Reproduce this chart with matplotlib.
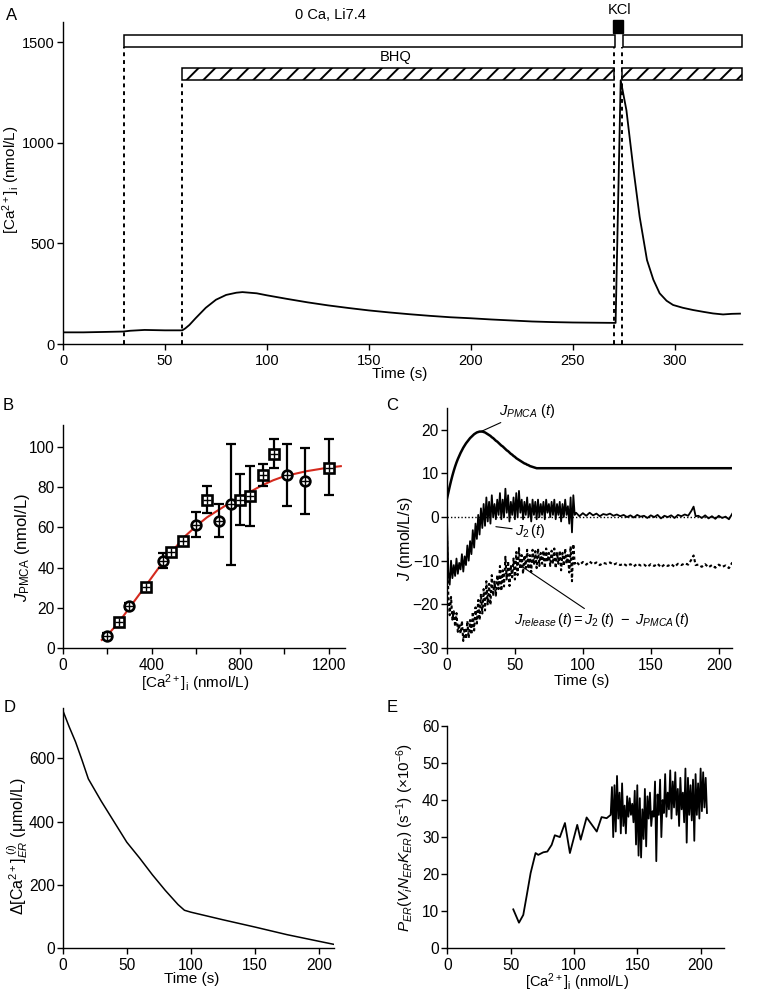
import matplotlib
matplotlib.use('Agg')
import matplotlib.pyplot as plt
import numpy as np
from matplotlib.patches import Rectangle

plt.rcParams['font.family'] = ['Liberation Sans', 'DejaVu Sans']
plt.rcParams['mathtext.fontset'] = 'custom'
plt.rcParams['mathtext.rm'] = 'Liberation Sans'
plt.rcParams['mathtext.it'] = 'Liberation Sans:italic'
plt.rcParams['mathtext.bf'] = 'Liberation Sans:bold'
plt.rcParams['hatch.linewidth'] = 1.4
plt.rcParams['axes.linewidth'] = 1.0

# ---------------- panel A : [Ca2+]i trace ----------------
a_time = [0, 10, 20, 29.5, 33, 40, 50, 58.5, 60, 62, 65, 70, 75, 80, 85, 88, 95, 100,
          110, 120, 130, 140, 150, 160, 170, 180, 190, 200, 210, 220, 230, 240, 250,
          260, 271, 273.5, 276.3, 279.6, 282.8, 286.4, 289.5, 292.6, 296, 299.2, 304,
          309, 314, 318.8, 323.7, 328, 332]
a_ca = [58, 58, 60, 62, 66, 70, 68, 68, 78, 95, 128, 180, 220, 244, 255, 258, 252, 242,
        224, 207, 192, 179, 167, 157, 148, 140, 133, 128, 122, 117, 112, 109, 107,
        106, 105, 1311, 1162, 881, 632, 417, 320, 252, 215, 194, 180,
        169, 160, 152, 147, 150, 151]
# solution bars (start, end) in s
zero_ca_bars = [(30, 270.6), (274.4, 333)]
bhq_bars = [(58.5, 270), (274.3, 333)]
kcl_bar = (269.6, 274.5)
a_dotted = [30, 58.5, 270, 274.3]

# ---------------- panel B : J_PMCA vs Ca ----------------
b_ca = [200, 255, 300, 375, 450, 490, 540, 600, 650, 705, 760, 800, 845, 905, 955, 1010, 1095, 1200]
b_j = [6.1, 12.7, 20.7, 30.3, 43.3, 48, 53.3, 61.2, 73.6, 63.4, 71.5, 73.6, 75.8, 86.2, 96.8, 86.2, 83, 89.8]
b_err_hi = [1.5, 1.5, 1.5, 1.5, 4.0, 1.5, 1.5, 6.5, 7.0, 8.2, 30.2, 12.9, 14.7, 5.6, 7.4, 15.4, 16.3, 14.4]
b_err_lo = [1.5, 1.5, 1.5, 1.5, 3.3, 1.5, 1.5, 6.1, 6.3, 8.0, 30.0, 12.6, 14.9, 5.6, 7.3, 15.6, 16.2, 13.9]
b_marker = ['o', 's', 'o', 's', 'o', 's', 's', 'o', 's', 'o', 'o', 's', 's', 's', 's', 'o', 'o', 's']
b_fit_ca = [175, 200, 250, 300, 367, 443, 500, 550, 600, 650, 700, 750, 800, 850, 900, 950, 1000, 1100, 1200, 1255]
b_fit_j = [4.0, 6.3, 12.5, 20, 30, 41.5, 49, 55.5, 60.5, 65, 68.5, 72, 75, 78, 81, 83.5, 85.5, 88, 89.8, 90.5]

# ---------------- panel C : fluxes ----------------
jpmca_rise = [4.2, 5.6, 7.0, 8.3, 9.5, 10.6, 11.6, 12.5, 13.3, 14.0, 14.7, 15.3, 15.9, 16.4,
              16.9, 17.3, 17.7, 18.1, 18.4, 18.7, 19.0, 19.2, 19.4, 19.5, 19.6, 19.6, 19.6,
              19.5, 19.4, 19.2, 19.0, 18.8, 18.6, 18.3, 18.1, 17.8, 17.5, 17.3, 17.0, 16.7,
              16.4, 16.2, 15.9, 15.6, 15.3, 15.1, 14.8, 14.5, 14.3, 14.0, 13.8, 13.5, 13.3,
              13.1, 12.9, 12.7, 12.5, 12.3, 12.2, 12.0, 11.9, 11.7, 11.6, 11.5, 11.4, 11.3, 11.2]
jpmca_plateau = 11.2
c_end = 210

j2_dense = [0.0, -12.5, -15.5, -10.0, -14.0, -11.0, -13.5, -9.5, -13.0, -10.5, -12.0, -8.5,
            -12.5, -9.0, -11.0, -6.5, -10.0, -5.5, -8.5, -3.0, -7.0, -1.5, -5.0, 0.5, -4.0,
            2.0, -2.5, 3.0, -2.0, 4.5, -1.0, 3.5, -1.5, 5.0, 0.0, 3.0, -0.5, 4.0, 0.5, 5.5,
            -0.5, 4.0, 0.0, 6.5, 1.0, 5.0, -1.0, 3.5, 0.5, 4.5, -0.5, 5.5, 0.0, 6.0, 1.0,
            4.0, -0.5, 3.5, 0.5, 4.5, 0.0, 3.0, -1.0, 4.0, 0.5, 3.5, -0.5, 4.0, 0.0, 3.0,
            0.5, 3.5, -0.5, 4.0, 1.0, 3.0, 0.0, 3.5, 0.5, 4.0, -0.5, 3.0, 0.5, 3.5, -1.0,
            3.0, 0.0, 4.0, 0.5, 2.5, -1.5, 4.5, -3.5, 5.0]
t_tail = [94, 95, 97.5, 100, 102.5, 105, 107.5, 110, 112.5, 115, 117.5, 120, 122.5, 125,
          127.5, 130, 132.5, 135, 137.5, 140, 142.5, 145, 147.5, 150, 152.5, 155, 157.5,
          160, 162.5, 165, 167.5, 170, 172.5, 175, 177.5, 180, 181.5, 183, 185, 187.5,
          190, 192.5, 195, 197.5, 200, 202.5, 205, 207.5, 210]
j2_tail = [0.5, 1.0, 0.2, 0.9, 0.3, 1.0, 0.4, 0.8, 0.2, 0.7, 0.5, 0.8, 0.3, 0.6, 0.2, 0.5,
           0.0, 0.4, -0.1, 0.5, 0.1, 0.3, -0.2, 0.4, 0.0, 0.5, -0.3, 0.3, 0.0, 0.4, -0.2,
           0.5, 0.2, 0.6, 0.3, 1.5, 2.4, 0.2, 0.3, -0.2, 0.4, -0.3, 0.2, -0.4, 0.3, -0.2,
           0.1, -0.5, 0.8]

# ---------------- panel D : ER Ca depletion ----------------
d_time = [0, 5, 10, 15, 20, 25, 30, 40, 50, 60, 70, 80, 90, 95, 100, 125, 150, 175, 200, 212]
d_ca = [752, 700, 652, 595, 535, 500, 465, 400, 335, 285, 232, 183, 138, 120, 114, 90, 67, 43, 22, 12]

# ---------------- panel E : permeability vs Ca ----------------
e_ca = [52.1, 56.6, 60, 62.6, 65.8, 69.7, 71.8, 75.8, 79, 82.4, 84.9, 88.9, 92.9, 96.8,
        102.6, 105.3, 110, 118, 121.8, 125.8, 129] + list(range(130, 206))
e_p = [10.5, 6.9, 9, 14, 20.3, 25.7, 25.2, 25.9, 26.1, 27.9, 30.5, 30, 33.8, 25.7,
       33.3, 29.3, 35.3, 31.5, 35.4, 35.1, 36,
       43.5, 30.0, 44.0, 31.5, 46.5, 35.0, 42.0, 31.0, 44.5, 33.0, 38.5, 31.0, 41.0, 35.5,
       40.5, 36.0, 39.0, 34.0, 42.5, 28.0, 44.0, 25.0, 40.5, 24.5, 37.5, 29.5, 43.0, 27.5,
       41.0, 35.0, 42.0, 33.0, 37.0, 35.5, 45.0, 23.5, 41.5, 36.0, 45.5, 30.0, 40.0, 36.5,
       47.0, 35.5, 42.0, 37.5, 48.0, 35.0, 45.0, 38.0, 47.5, 36.0, 43.0, 33.0, 46.0, 37.5,
       42.0, 34.0, 48.5, 28.5, 46.0, 36.0, 44.0, 34.5, 45.5, 29.0, 47.0, 36.0, 44.5, 35.0,
       48.5, 37.0, 47.5, 38.0, 46.0, 36.5]

TICK_A = 10.5
TICK = 11.2
LAB = 11


def style(ax, fs):
    ax.spines['top'].set_visible(False)
    ax.spines['right'].set_visible(False)
    ax.tick_params(direction='out', length=4.3, width=1, labelsize=fs)
    ax.tick_params(axis='x', pad=3.0)
    ax.tick_params(axis='y', pad=1.5)


def place_labels(ax, xl, yl):
    # label centres in axes coordinates
    ax.xaxis.set_label_coords(*xl)
    ax.xaxis.label.set_va('center')
    ax.yaxis.set_label_coords(*yl)
    ax.yaxis.label.set_va('center')


fig = plt.figure(figsize=(7.63, 9.92), dpi=100)

# ---- A ----
axA = fig.add_axes([0.0826, 0.6532, 0.8899, 0.3246])
style(axA, TICK_A)
axA.plot(a_time, a_ca, color='black', lw=1.3)
for s, e in zero_ca_bars:
    axA.add_patch(Rectangle((s, 1475), e - s, 60, facecolor='white', edgecolor='black',
                            lw=1.1, clip_on=False, zorder=3))
for s, e in bhq_bars:
    axA.add_patch(Rectangle((s, 1311), e - s, 60, facecolor='white', edgecolor='black',
                            hatch='//', lw=1.1, clip_on=False, zorder=3))
axA.add_patch(Rectangle((kcl_bar[0], 1545), kcl_bar[1] - kcl_bar[0], 65, facecolor='black',
                        edgecolor='black', clip_on=False, zorder=3))
axA.vlines(a_dotted[0], 0, 1475, colors='black', linestyles=(0, (2, 2)), lw=1.4)
axA.vlines(a_dotted[1], 0, 1311, colors='black', linestyles=(0, (2, 2)), lw=1.4)
axA.vlines(a_dotted[2:], 0, 1475, colors='black', linestyles=(0, (2, 2)), lw=1.4)
axA.text(131, 1600, '0 Ca, Li7.4', ha='center', va='bottom', fontsize=10.5, clip_on=False)
axA.text(163, 1392, 'BHQ', ha='center', va='bottom', fontsize=10.5, clip_on=False)
axA.text(273, 1625, 'KCl', ha='center', va='bottom', fontsize=10.5, clip_on=False)
axA.set_xlim(0, 333)
axA.set_ylim(0, 1600)
axA.set_xticks(range(0, 301, 50))
axA.set_yticks([0, 500, 1000, 1500])
axA.set_xlabel('Time (s)', fontsize=LAB)
axA.set_ylabel('[Ca$^{2+}$]$_{\\rm i}$ (nmol/L)', fontsize=LAB)
place_labels(axA, (0.496, -0.093), (-0.077, 0.51))

# ---- B ----
axB = fig.add_axes([0.0826, 0.3468, 0.3696, 0.2248])
style(axB, TICK)
axB.plot(b_fit_ca, b_fit_j, color='#d42a1e', lw=1.5, zorder=2)
axB.errorbar(b_ca, b_j, yerr=[b_err_lo, b_err_hi], fmt='none', ecolor='black',
             elinewidth=1.6, capsize=3.5, capthick=1.6, zorder=3)
for x, y, m in zip(b_ca, b_j, b_marker):
    axB.plot(x, y, marker=m, ms=7, mfc='white', mec='black', mew=1.9, zorder=4)
    axB.plot(x, y, marker='+', ms=6, mec='black', mew=1.0, zorder=5)
axB.set_xlim(0, 1274)
axB.set_ylim(0, 111)
axB.set_xticks(range(0, 1201, 200))
axB.set_xticklabels(['0', '', '400', '', '800', '', '1200'])
axB.set_yticks(range(0, 101, 20))
axB.set_xlabel('[Ca$^{2+}$]$_{\\rm i}$ (nmol/L)', fontsize=LAB)
axB.set_ylabel('$J_{\\rm PMCA}$ (nmol/L)', fontsize=12)
place_labels(axB, (0.468, -0.157), (-0.142, 0.45))

# ---- C ----
axC = fig.add_axes([0.5858, 0.3468, 0.3731, 0.2419])
style(axC, TICK)
t_dense = list(range(len(j2_dense)))
jpmca_dense = jpmca_rise + [jpmca_plateau] * (len(j2_dense) - len(jpmca_rise))
t_all = np.array(t_dense + t_tail)
j2_all = np.array(j2_dense + j2_tail)
jpmca_all = np.array(jpmca_dense + [jpmca_plateau] * len(t_tail))
jrel_all = j2_all - jpmca_all
axC.hlines(0, 0, c_end, colors='black', linestyles=(0, (1, 1.5)), lw=1.0)
axC.plot(list(range(len(jpmca_rise))) + [c_end], jpmca_rise + [jpmca_plateau],
         color='black', lw=1.8)
axC.plot(t_all, j2_all, color='black', lw=1.3)
axC.plot(t_all, jrel_all, color='black', lw=1.5, linestyle=(0, (1.5, 1.2)))
line_kw = dict(arrowstyle='-', lw=0.8, color='black', shrinkA=0, shrinkB=0)
axC.annotate('$J_{PMCA}\\ (t)$', xy=(25, 19.6), xytext=(38, 22.3), fontsize=10.5,
             ha='left', va='bottom', arrowprops=line_kw)
axC.annotate('$J_2\\,(t)$', xy=(36, -2.2), xytext=(50, -3.2), fontsize=10.5,
             ha='left', va='center', arrowprops=line_kw)
axC.annotate('$J_{release}\\,(t) = J_2\\,(t)\\ -\\ J_{PMCA}\\,(t)$', xy=(56, -11.5),
             xytext=(114, -21.6), fontsize=10.5, ha='center', va='top',
             arrowprops=line_kw)
axC.set_xlim(0, 209.5)
axC.set_ylim(-30, 25)
axC.set_xticks(range(0, 201, 50))
axC.set_yticks(range(-30, 21, 10))
axC.set_xlabel('Time (s)', fontsize=LAB)
axC.set_ylabel('$J$ (nmol/L/s)', fontsize=11.5)
place_labels(axC, (0.473, -0.1375), (-0.147, 0.455))

# ---- D ----
axD = fig.add_axes([0.0822, 0.0441, 0.356, 0.2419])
style(axD, TICK)
axD.plot(d_time, d_ca, color='black', lw=1.1)
axD.set_xlim(0, 212)
axD.set_ylim(0, 758)
axD.set_xticks(range(0, 201, 50))
axD.set_yticks(range(0, 601, 200))
axD.set_xlabel('Time (s)', fontsize=LAB)
axD.set_ylabel('$\\mathit{\\Delta}$[Ca$^{2+}$]$_{ER}^{\\ (i)}$ (\u03bcmol/L)', fontsize=11.5)
place_labels(axD, (0.475, -0.13), (-0.168, 0.426))

# ---- E ----
axE = fig.add_axes([0.5862, 0.0441, 0.3626, 0.2241])
style(axE, TICK)
axE.plot(e_ca, e_p, color='black', lw=1.3)
axE.set_xlim(0, 218.4)
axE.set_ylim(0, 60)
axE.set_xticks(range(0, 201, 50))
axE.set_yticks(range(0, 61, 10))
axE.set_xlabel('[Ca$^{2+}$]$_{\\rm i}$ (nmol/L)', fontsize=10.5)
axE.set_ylabel('$P_{ER}$($V_iN_{ER}K_{ER}$) (s$^{-1}$) (\u00d710$^{-6}$)', fontsize=LAB)
place_labels(axE, (0.468, -0.153), (-0.153, 0.50))

# panel letters
for lab, x, y in [('A', 12, 15), ('B', 8, 406), ('C', 392, 406), ('D', 10, 707), ('E', 392, 707)]:
    fig.text(x / 763, 1 - y / 992, lab, fontsize=12, ha='center', va='center')

fig.savefig('out.png', dpi=100)
